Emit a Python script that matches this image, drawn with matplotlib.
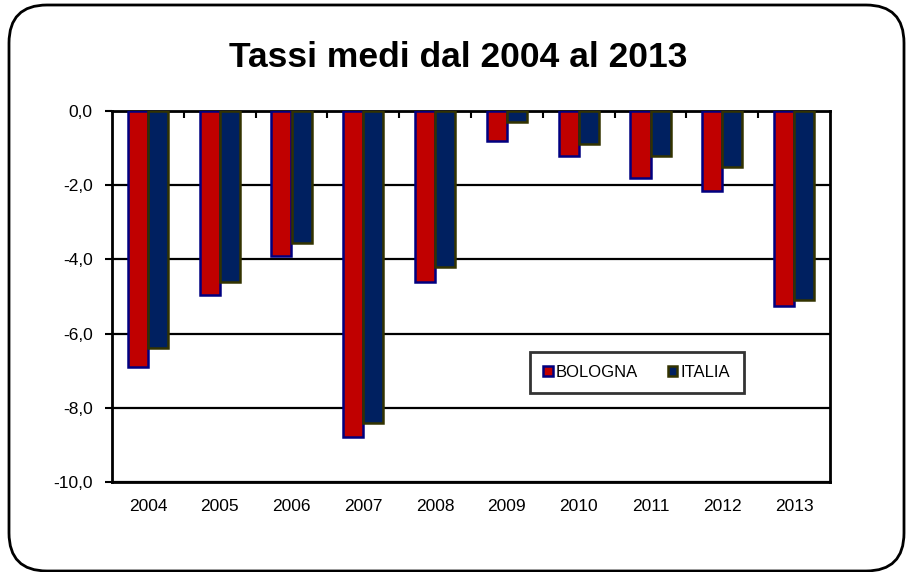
import matplotlib.pyplot as plt
import numpy as np
from matplotlib.patches import FancyBboxPatch
from matplotlib.transforms import IdentityTransform

plt.rcParams['font.family'] = ['Liberation Sans', 'DejaVu Sans']

years = ['2004', '2005', '2006', '2007', '2008', '2009', '2010', '2011', '2012', '2013']
bologna = [-6.9, -4.95, -3.9, -8.8, -4.6, -0.8, -1.2, -1.8, -2.15, -5.25]
italia = [-6.4, -4.6, -3.55, -8.4, -4.2, -0.3, -0.9, -1.2, -1.5, -5.1]

fig = plt.figure(figsize=(9.06, 5.72), dpi=100)

# rounded frame around the whole chart
frame = FancyBboxPatch((9, 1), 895, 566, boxstyle='round,pad=0,rounding_size=38',
                       transform=IdentityTransform(), fill=False, edgecolor='black', linewidth=2)
fig.patches.append(frame)

ax = fig.add_axes([112/906, 1 - 482/572, (830 - 112)/906, (482 - 111)/572])

x = np.arange(len(years))
w = 0.28
ax.bar(x - w/2, bologna, w, color='#C00000', edgecolor='#000080', linewidth=1.8, label='BOLOGNA', zorder=3)
ax.bar(x + w/2, italia, w, color='#002060', edgecolor='#333300', linewidth=1.8, label='ITALIA', zorder=3)

ax.set_ylim(-10, 0)
ax.set_xlim(-0.5, len(years) - 0.5)
ticks = np.arange(-10, 0.1, 2)
ax.set_yticks(ticks)
ax.set_yticklabels([f'{v:.1f}'.replace('.', ',') for v in ticks], fontsize=12.5)
ax.set_xticks(x)
ax.set_xticklabels(years, fontsize=12.5)
ax.set_xticks(np.arange(0.5, len(years) - 0.5, 1), minor=True)
ax.tick_params(axis='x', which='major', length=0, pad=12)
ax.tick_params(axis='x', which='minor', top=True, bottom=False, direction='in', length=5, width=1.5)
ax.tick_params(axis='y', direction='out', length=5, width=1.5, pad=9)
ax.yaxis.grid(True, color='black', linewidth=1.6, zorder=0)
ax.set_axisbelow(True)
for s in ax.spines.values():
    s.set_linewidth(2)
    s.set_color('black')

leg = ax.legend(loc='center', bbox_to_anchor=(0.731, 0.295), ncol=2, fontsize=12, frameon=True,
                fancybox=False, edgecolor='black', handlelength=0.55, handleheight=0.55,
                handletextpad=0.2, columnspacing=1.8, borderpad=0.8)
leg.get_frame().set_linewidth(2)

fig.text(0.506, 0.9, 'Tassi medi dal 2004 al 2013', ha='center', va='center',
         fontsize=25.5, fontweight='bold')

fig.savefig('out.png', dpi=100)
